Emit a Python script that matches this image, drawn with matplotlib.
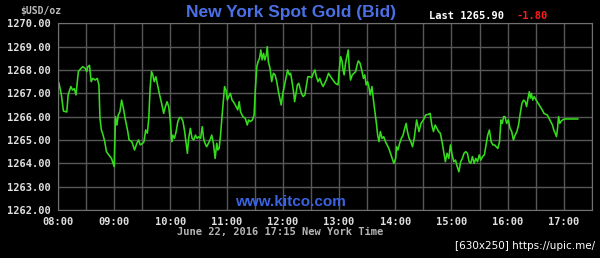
import matplotlib
matplotlib.use("Agg")
import matplotlib.pyplot as plt
import numpy as np

# minutes after 08:00 (New York time) and bid price
minutes = [0, 1.1, 3.6, 5.8, 9.4, 10.8, 13.7, 15.5, 17.4, 19.2, 21.7, 24.6, 26.4, 28.9,
           30.7, 31.8, 33.6, 35.4, 37.2, 39.8, 41.9, 43.7, 44.8, 46.3, 48.1, 49.9, 51.7,
           54.2, 57.1, 58.9, 60.0, 61.4, 62.9, 64.3, 66.1, 67.9, 69.8, 71.6, 74.5, 75.9,
           78.8, 81.7, 84.2, 86.0, 87.8, 90.4,
           91.8, 93.6, 95.4, 96.9, 98.3, 99.8, 101.2, 102.7, 104.5, 106.3, 108.1, 110.6,
           112.8, 114.6, 116.4, 118.2, 120.0, 121.4, 122.5, 124.3, 126.1, 127.9, 129.7,
           131.6, 133.4, 135.2, 137.0, 138.1, 139.5, 141.3, 143.1, 144.9, 146.7, 148.5,
           150.4, 152.2, 154.0, 155.4, 156.9, 158.7, 160.5, 162.3, 164.1, 165.9, 167.7,
           169.5, 170.6, 172.0, 173.5, 174.9, 176.4, 177.8, 179.3, 180.7, 182.2, 184.0,
           185.8,
           188.3, 190.1, 191.9, 193.4, 194.8, 197.4, 199.9, 202.0, 203.5, 205.3, 207.5,
           209.3, 210.7, 212.2, 213.6, 215.1, 216.5, 217.9, 219.4, 220.8, 222.3, 223.4,
           224.5, 226.3, 228.1, 229.9, 231.7, 233.5, 235.3, 236.7, 238.2, 240.0, 241.8,
           243.6, 245.1, 246.9, 248.3, 249.8, 251.6, 252.6, 254.1, 255.5, 257.0, 258.4,
           259.9, 261.7, 263.5, 265.3, 266.7, 268.5, 270.7, 272.5, 274.3, 275.8, 277.6,
           279.4, 281.2, 283.0,
           286.3, 288.8, 291.0, 293.5, 296.0, 298.9, 300.4, 301.8, 303.3, 304.3, 305.4,
           306.9, 308.3, 309.8, 310.8, 312.3, 314.1, 315.9, 317.7, 319.2, 320.6, 322.4,
           324.2, 326.0, 327.5, 328.9, 330.4, 331.8, 333.2, 335.1, 336.9, 338.7, 340.1,
           341.2, 342.6, 344.1, 345.9, 347.7, 349.5, 351.3, 353.1, 354.9, 356.7, 358.5,
           360.4, 361.4, 362.9, 364.7, 366.5, 368.3, 370.1, 371.6, 373.0, 374.8, 376.6,
           378.4, 380.2,
           382.8, 385.3, 387.5, 390.0, 392.5, 395.4, 397.2, 399.0, 400.8, 402.6, 404.5,
           406.3, 408.1, 409.9, 411.7, 413.5, 415.3, 417.1, 418.9, 420.7, 422.5, 424.3,
           426.1, 427.9, 429.8, 431.6, 433.4, 435.2, 437.0, 438.8, 440.6, 442.4, 444.2,
           446.0, 447.8, 449.6, 451.4, 453.2, 455.1, 456.9, 458.7, 460.5, 462.3, 464.1,
           465.9, 467.7, 469.5, 471.3, 472.8, 474.2, 475.7,
           477.1, 478.9, 480.7, 482.5, 484.3, 486.1, 487.9, 489.8, 491.6, 493.4, 495.2,
           497.0, 498.8, 500.2, 501.7, 503.1, 504.2, 505.3, 506.7, 508.2, 510.4, 512.5,
           514.7, 516.9, 518.7, 520.5, 522.3, 524.1, 526.0, 527.8, 529.2, 530.7, 532.1,
           533.2, 534.3, 535.7, 537.2, 538.6, 540.7, 544.0, 549.4, 554.8]

prices = [1267.50, 1267.43, 1266.93, 1266.24, 1266.20, 1266.93, 1267.29, 1267.14, 1267.20,
          1266.93, 1267.93, 1268.07, 1268.14, 1268.07, 1267.93, 1268.14, 1268.20, 1267.50,
          1267.64, 1267.57, 1267.64, 1267.36, 1265.93, 1265.43, 1265.21, 1264.93, 1264.50,
          1264.36, 1264.21, 1264.00, 1263.86, 1266.00, 1265.64, 1266.07, 1266.21, 1266.71,
          1266.36, 1265.93, 1265.36, 1265.00, 1264.93, 1264.57, 1264.86, 1265.00, 1264.79,
          1264.86,
          1264.93, 1265.43, 1265.29, 1265.93, 1267.21, 1267.93, 1267.79, 1267.50, 1267.71,
          1267.36, 1267.00, 1266.57, 1266.14, 1266.43, 1266.64, 1266.43, 1265.79, 1264.93,
          1265.21, 1265.07, 1265.36, 1265.79, 1265.96, 1265.96, 1265.79, 1265.36, 1264.79,
          1264.43, 1265.07, 1265.50, 1265.07, 1265.00, 1265.21, 1265.07, 1265.14, 1265.07,
          1265.57, 1265.07, 1264.86, 1264.71, 1264.86, 1265.00, 1265.21, 1264.86, 1264.21,
          1264.86, 1264.57, 1264.64, 1265.21, 1265.93, 1266.64, 1267.29, 1267.14, 1266.71,
          1266.86, 1267.00, 1266.71,
          1266.57, 1266.43, 1266.29, 1266.64, 1266.21, 1266.00, 1265.93, 1265.64, 1265.86,
          1265.79, 1265.86, 1266.07, 1267.21, 1268.14, 1268.36, 1268.50, 1268.86, 1268.43,
          1268.71, 1268.43, 1268.64, 1269.00, 1268.36, 1268.07, 1267.50, 1267.86, 1267.79,
          1267.50, 1267.07, 1266.79, 1266.50, 1267.00, 1267.36, 1267.71, 1268.00, 1267.79,
          1267.86, 1267.50, 1267.00, 1266.64, 1267.00, 1267.36, 1267.43, 1267.21, 1267.00,
          1266.86, 1266.93, 1267.36, 1267.71, 1267.71, 1267.67, 1267.86, 1268.00, 1267.71,
          1267.50, 1267.64, 1267.43, 1267.29,
          1267.57, 1267.86, 1267.71, 1267.57, 1267.43, 1267.36, 1268.07, 1268.57, 1268.36,
          1268.00, 1267.79, 1268.29, 1268.57, 1268.86, 1268.14, 1267.57, 1267.79, 1267.86,
          1267.93, 1268.21, 1268.39, 1268.29, 1268.00, 1267.64, 1267.79, 1267.36, 1267.50,
          1267.29, 1266.93, 1267.29, 1266.64, 1266.07, 1265.64, 1265.21, 1264.93, 1265.36,
          1265.07, 1265.14, 1264.93, 1264.79, 1264.64, 1264.43, 1264.21, 1264.00, 1264.21,
          1264.71, 1264.57, 1264.86, 1265.07, 1265.21, 1265.50, 1265.71, 1265.36, 1265.07,
          1264.93, 1264.71, 1265.07,
          1265.86, 1265.36, 1265.71, 1265.86, 1266.07, 1266.10, 1266.14, 1265.64, 1265.36,
          1265.64, 1265.50, 1265.36, 1265.29, 1264.93, 1264.50, 1264.07, 1264.43, 1264.21,
          1264.79, 1264.36, 1264.07, 1264.14, 1263.86, 1263.64, 1264.07, 1264.21, 1264.43,
          1264.50, 1264.43, 1264.07, 1264.00, 1264.29, 1264.00, 1264.21, 1264.07, 1264.36,
          1264.14, 1264.29, 1264.36, 1264.79, 1265.21, 1265.43, 1264.93, 1264.79, 1264.79,
          1264.71, 1264.64, 1264.93, 1265.86, 1265.71, 1266.00,
          1266.00, 1265.71, 1265.86, 1265.50, 1265.36, 1265.00, 1265.21, 1265.36, 1265.64,
          1266.14, 1266.57, 1266.71, 1266.64, 1266.43, 1266.79, 1267.07, 1266.79, 1267.00,
          1266.71, 1266.86, 1266.71, 1266.57, 1266.43, 1266.29, 1266.14, 1266.10, 1266.07,
          1265.93, 1265.79, 1265.64, 1265.43, 1265.29, 1265.14, 1265.50, 1266.00, 1265.71,
          1265.81, 1265.86, 1265.90, 1265.90, 1265.90, 1265.90]

hour_labels = ["08:00", "09:00", "10:00", "11:00", "12:00", "13:00",
               "14:00", "15:00", "16:00", "17:00"]
price_ticks = [1262, 1263, 1264, 1265, 1266, 1267, 1268, 1269, 1270]

mono = "DejaVu Sans Mono"
fig = plt.figure(figsize=(6, 2.58), dpi=100, facecolor="black")
ax = fig.add_axes([58 / 600, 1 - 210 / 258, 534 / 600, 186.7 / 258], facecolor="black")

ax.plot(minutes, prices, color="#35dc1c", lw=1.15)

ax.set_xlim(0, 570)
ax.set_ylim(1262, 1270)
ax.set_xticks(np.arange(0, 571, 30))
ax.set_xticklabels([hour_labels[i // 2] if i % 2 == 0 else "" for i in range(20)])
ax.set_yticks(price_ticks)
ax.set_yticklabels(["%.2f" % p for p in price_ticks])
ax.grid(True, color="#575757", lw=1.0)
ax.tick_params(length=0, colors="#e0e0e0", labelsize=7.5, pad=5)
for lab in ax.get_xticklabels() + ax.get_yticklabels():
    lab.set_family(mono)
    lab.set_fontweight("bold")
for s in ax.spines.values():
    s.set_color("#707070")

fig.text(291 / 600, 1 - 12 / 258, "New York Spot Gold (Bid)", color="#4b70e6",
         fontsize=12.5, fontweight="bold", family="Liberation Sans", ha="center", va="center")
fig.text(41 / 600, 1 - 11 / 258, "$USD/oz", color="#bdbdbd", fontsize=7,
         family=mono, fontweight="bold", ha="center", va="center")
fig.text(429 / 600, 1 - 16 / 258, "Last 1265.90", color="white", fontsize=7.5,
         family=mono, fontweight="bold", ha="left", va="center")
fig.text(517 / 600, 1 - 16 / 258, "-1.80", color="#ff1a1a", fontsize=7.5,
         family=mono, fontweight="bold", ha="left", va="center")
fig.text(290 / 600, 1 - 202 / 258, "www.kitco.com", color="#3b63e0",
         fontsize=11, fontweight="bold", family="Liberation Sans", ha="center", va="center")
fig.text(280 / 600, 1 - 232 / 258, "June 22, 2016 17:15 New York Time", color="#b5b5b5",
         fontsize=7.5, family=mono, fontweight="bold", ha="center", va="center")
fig.text(595 / 600, 1 - 246 / 258, "[630x250] https://upic.me/", color="white",
         fontsize=7.5, family="DejaVu Sans", ha="right", va="center")

fig.savefig("out.png", dpi=100, facecolor="black")
